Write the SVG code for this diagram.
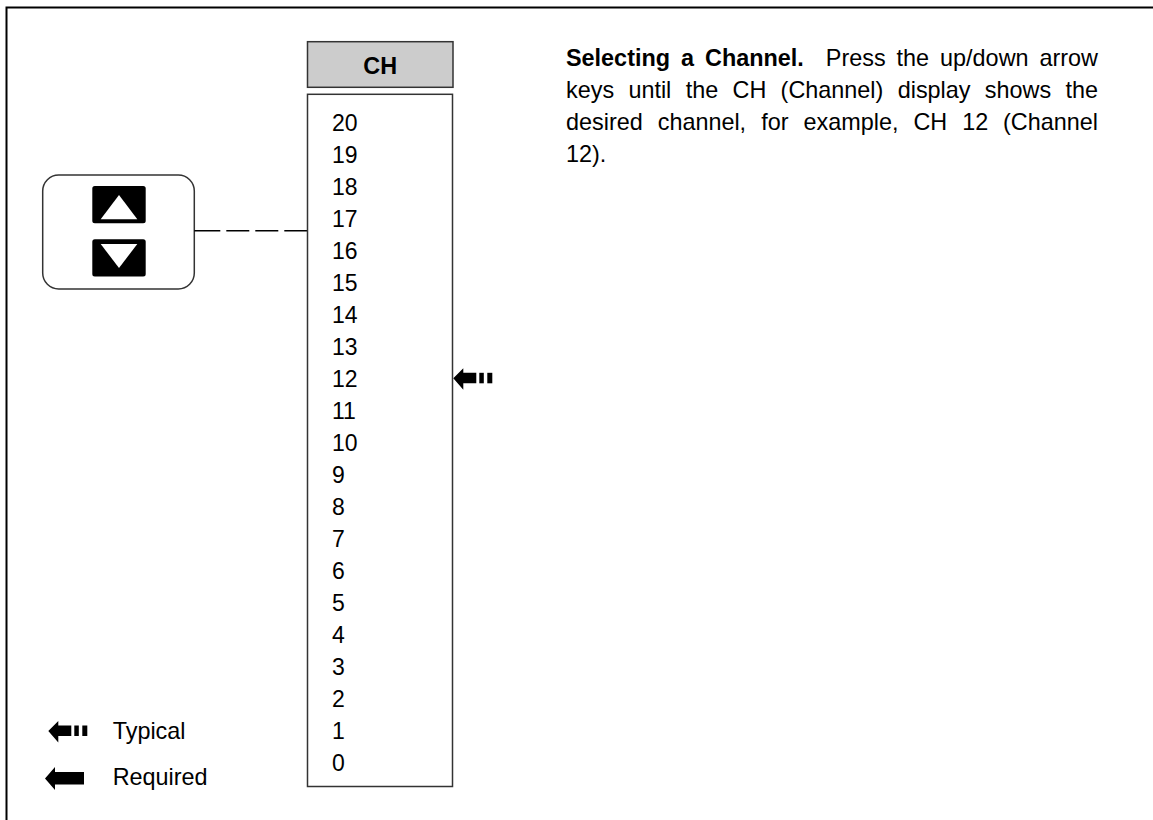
<svg xmlns="http://www.w3.org/2000/svg" width="1153" height="820" viewBox="0 0 1153 820">
<style>
text{font-family:"Liberation Sans",Arial,sans-serif;fill:#000}
.t{font-size:23.4px}
.n{font-size:23px}
.b{font-weight:bold}
.box{fill:#fff;stroke:#333;stroke-width:1.5}
.icon{fill:#000}
</style>
<defs>
<g id="typ">
<polygon points="0,0 10,-10 10,-5.5 23,-5.5 23,5 10,5 10,11.5"/>
<rect x="26" y="-5.5" width="4.5" height="10.5"/>
<rect x="34" y="-5.5" width="5" height="10.5"/>
</g>
<g id="req">
<polygon points="0,0 10,-11.5 10,-6.5 39,-6.5 39,6 10,6 10,11.5"/>
</g>
</defs>
<rect x="6.5" y="7.5" width="1170" height="840" fill="none" stroke="#000" stroke-width="2"/>

<g id="keys">
<rect x="42.7" y="175" width="151.6" height="114" rx="16" class="box" stroke="#000"/>
<rect x="92.3" y="186" width="53.4" height="37.3" rx="2.5" class="icon"/>
<polygon points="119,195 137.3,219.3 100.7,219.3" fill="#fff"/>
<rect x="92.3" y="239.3" width="53.4" height="37.3" rx="2.5" class="icon"/>
<polygon points="119,268 137.3,244 100.7,244" fill="#fff"/>
</g>

<g id="connectors">
<line x1="194.3" y1="230.7" x2="307.5" y2="230.7" stroke="#000" stroke-width="1.5" stroke-dasharray="26 6 23 6 23 6 30"/>
</g>

<g id="ch-header">
<rect x="307.5" y="41.7" width="145.5" height="45.6" fill="#ccc" stroke="#333" stroke-width="1.5"/>
<text x="380.2" y="74" class="t b" text-anchor="middle">CH</text>
</g>

<g id="ch-list">
<rect x="307.5" y="94.3" width="145" height="692.2" class="box"/>
<text class="n" x="332" y="131">20</text>
<text class="n" x="332" y="163">19</text>
<text class="n" x="332" y="195">18</text>
<text class="n" x="332" y="227">17</text>
<text class="n" x="332" y="259">16</text>
<text class="n" x="332" y="291">15</text>
<text class="n" x="332" y="323">14</text>
<text class="n" x="332" y="355">13</text>
<text class="n" x="332" y="387">12</text>
<text class="n" x="332" y="419">11</text>
<text class="n" x="332" y="451">10</text>
<text class="n" x="332" y="483">9</text>
<text class="n" x="332" y="515">8</text>
<text class="n" x="332" y="547">7</text>
<text class="n" x="332" y="579">6</text>
<text class="n" x="332" y="611">5</text>
<text class="n" x="332" y="643">4</text>
<text class="n" x="332" y="675">3</text>
<text class="n" x="332" y="707">2</text>
<text class="n" x="332" y="739">1</text>
<text class="n" x="332" y="771">0</text>
</g>

<g id="marker-12">
<use href="#typ" x="453.3" y="378.3"/>
</g>

<g id="description" class="t">
<text y="66"><tspan x="566" class="b">Selecting</tspan><tspan x="681" class="b">a</tspan><tspan x="705" class="b">Channel.</tspan><tspan x="825.8">Press</tspan><tspan x="896.6">the</tspan><tspan x="940.1">up/down</tspan></text>
<text y="66" x="1098" text-anchor="end">arrow</text>
<text y="98"><tspan x="566">keys</tspan><tspan x="628.4">until</tspan><tspan x="685.7">the</tspan><tspan x="732.5">CH</tspan><tspan x="780.6">(Channel)</tspan><tspan x="897.7">display</tspan><tspan x="984.8">shows</tspan></text>
<text y="98" x="1098" text-anchor="end">the</text>
<text y="130"><tspan x="566">desired</tspan><tspan x="657.7">channel,</tspan><tspan x="761.2">for</tspan><tspan x="803.5">example,</tspan><tspan x="913.4">CH</tspan><tspan x="962.2">12</tspan></text>
<text y="130" x="1098" text-anchor="end">(Channel</text>
<text y="162" x="566">12).</text>
</g>

<g id="legend-typical">
<use href="#typ" x="48.3" y="731"/>
<text class="t" x="112.7" y="739">Typical</text>
</g>
<g id="legend-required">
<use href="#req" x="45" y="778.5"/>
<text class="t" x="112.7" y="785">Required</text>
</g>
</svg>
